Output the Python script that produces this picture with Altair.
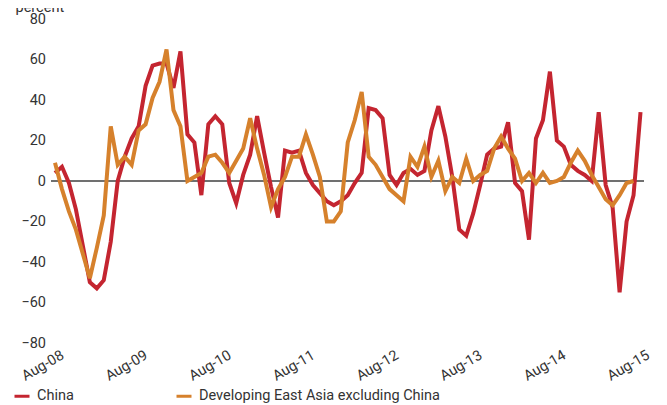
import altair as alt
import pandas as pd

tick_labels = ["Aug-08", "Aug-09", "Aug-10", "Aug-11", "Aug-12", "Aug-13", "Aug-14", "Aug-15"]
series_names = ["China", "Developing East Asia excluding China"]
series_colors = ["#C42530", "#D6812C"]

# monthly values, Aug-08 .. Aug-15 (percent)
china = [4, 7, -1, -14, -32, -50, -53, -49, -30, 0, 12, 21, 27, 47, 57, 58, 58, 46, 64, 23,
         19, -7, 28, 32, 28, -1, -11, 3, 13, 32, 14, -3, -18, 15, 14, 15, 4, -2, -6, -10,
         -12, -10, -7, -1, 4, 36, 35, 31, 3, -2, 4, 6, 3, 5, 25, 37, 22, 2, -24, -27,
         -16, -2, 13, 16, 17, 29, -1, -5, -29, 21, 30, 54, 20, 17, 8, 5, 3, 0, 34, -2,
         -13, -55, -20, -7, 34]
east_asia = [9, -4, -15, -24, -36, -48, -33, -17, 27, 8, 12, 8, 25, 28, 41, 49, 65, 35, 27, 0,
             2, 4, 12, 13, 9, 4, 10, 16, 31, 16, 3, -13, -4, 2, 12, 12, 23, 13, 2, -20,
             -20, -15, 19, 30, 44, 12, 8, 2, -4, -7, -10, 12, 7, 17, 2, 10, -5, 2, -1, 11,
             0, 3, 5, 16, 22, 16, 11, 0, 4, -1, 4, -1, 0, 2, 9, 15, 10, 3, -3, -9,
             -12, -7, -1, 0]

rows = []
for i, v in enumerate(china):
    rows.append({"m": i, "v": v, "s": series_names[0]})
for i, v in enumerate(east_asia):
    rows.append({"m": i, "v": v, "s": series_names[1]})
df = pd.DataFrame(rows)

label_expr = "[" + ",".join("'%s'" % t for t in tick_labels) + "][round(datum.value/12)]"
FONT = "Roboto, sans-serif"
FS = 14.5
TXT = "#333333"

x_enc = alt.X("m:Q", scale=alt.Scale(domain=[-0.5, 84.5], nice=False, zero=False),
              axis=alt.Axis(values=[0, 12, 24, 36, 48, 60, 72, 84], labelExpr=label_expr,
                            labelAngle=-30, labelAlign="right", labelBaseline="top",
                            labelOffset=4, labelPadding=5, ticks=False, domain=False,
                            grid=False, title=None, labelFontSize=FS, labelColor=TXT,
                            labelFont=FONT))
y_enc = alt.Y("v:Q", scale=alt.Scale(domain=[-80, 80], nice=False),
              axis=alt.Axis(values=[-80, -60, -40, -20, 0, 20, 40, 60, 80], ticks=False,
                            domain=False, grid=False, labelPadding=6, labelFontSize=FS,
                            labelColor=TXT, labelFont=FONT, title="percent", titleAngle=0,
                            titleAlign="left", titleBaseline="alphabetic", titleX=-36.5,
                            titleY=-8, titleFontSize=FS, titleFontWeight="normal",
                            titleColor=TXT, titleFont=FONT))

lines = alt.Chart(df).mark_line(strokeWidth=4, strokeJoin="miter").encode(
    x=x_enc, y=y_enc,
    color=alt.Color("s:N", scale=alt.Scale(domain=series_names, range=series_colors),
                    legend=alt.Legend(orient="none", legendX=-38.5, legendY=368,
                                      direction="horizontal", title=None,
                                      symbolType="stroke", symbolSize=225,
                                      symbolStrokeWidth=3, labelOffset=6,
                                      columnPadding=96, labelFontSize=FS,
                                      labelLimit=0,
                                      labelColor=TXT, labelFont=FONT, padding=0)),
)

zero = alt.Chart(df).mark_rule(color="#707070", strokeWidth=1.3).encode(y=alt.datum(0))

chart = alt.layer(zero, lines).properties(
    width=592.5, height=324,
    autosize=alt.AutoSizeParams(type="none"),
    padding={"left": 43.5, "top": 11, "right": 15, "bottom": 62},
).configure_view(strokeWidth=0)

chart.save("out.html", embed_options={"renderer": "svg", "actions": False})
